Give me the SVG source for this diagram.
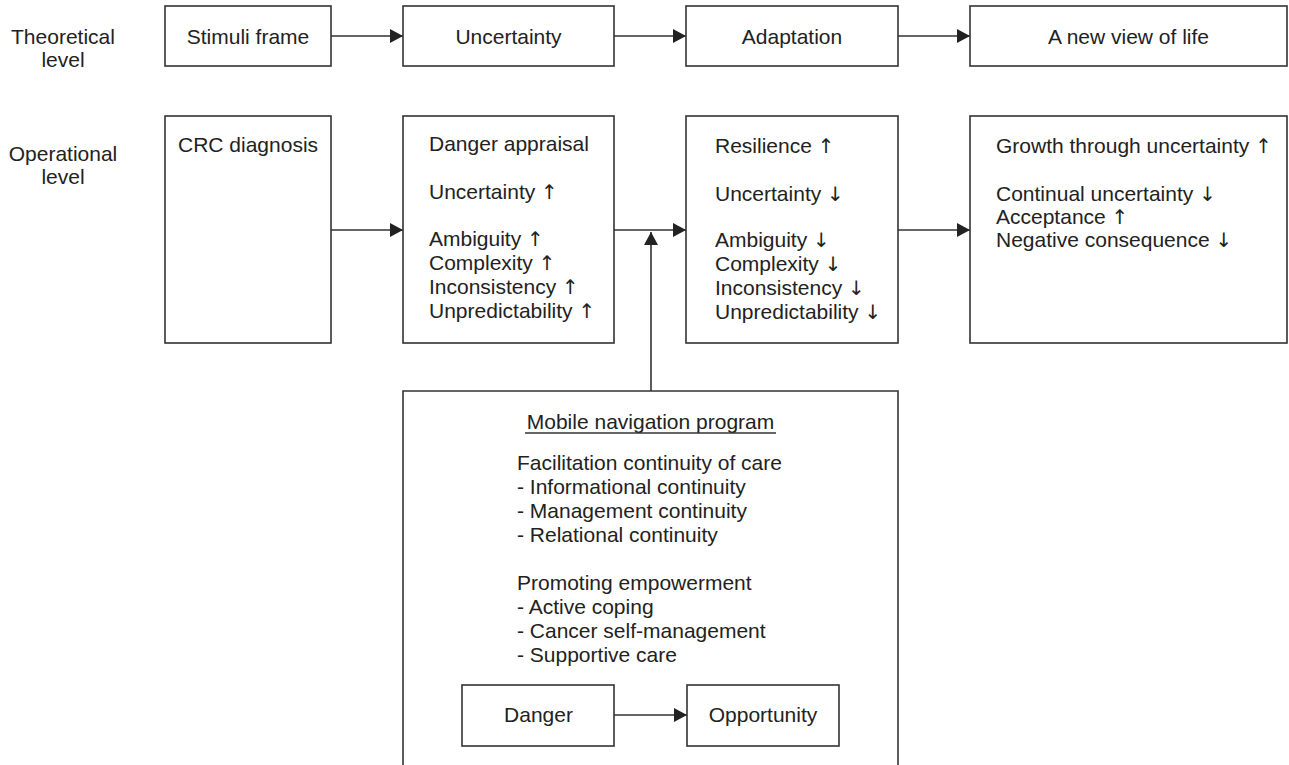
<svg xmlns="http://www.w3.org/2000/svg" width="1289" height="765" viewBox="0 0 1289 765">
<defs>
<style>
text{font-family:"Liberation Sans",Arial,sans-serif;font-size:21px;fill:#222}
.c{text-anchor:middle}
.a{font-family:"DejaVu Sans",sans-serif;font-size:20px;fill:#222}
.box{fill:#fff;stroke:#333;stroke-width:1.6}
.ln{fill:none;stroke:#333;stroke-width:1.6}
.arr{fill:none;stroke:#333;stroke-width:1.6;marker-end:url(#ah)}
</style>
<marker id="ah" markerUnits="userSpaceOnUse" markerWidth="14" markerHeight="15" refX="13" refY="7" orient="auto">
<path d="M0,0 L13,7 L0,14 z" fill="#222"/>
</marker>
</defs>
<rect width="1289" height="765" fill="#fff"/>

<g id="labels">
<text class="c" x="63" y="44">Theoretical</text>
<text class="c" x="63" y="67">level</text>
<text class="c" x="63" y="161">Operational</text>
<text class="c" x="63" y="184">level</text>
</g>

<g id="connectors">
<line class="arr" x1="331" y1="36" x2="403" y2="36"/>
<line class="arr" x1="614" y1="36" x2="686" y2="36"/>
<line class="arr" x1="898" y1="36" x2="970" y2="36"/>
<line class="arr" x1="331" y1="230" x2="403" y2="230"/>
<line class="arr" x1="614" y1="230" x2="686" y2="230"/>
<line class="arr" x1="898" y1="230" x2="970" y2="230"/>
<line class="arr" x1="651" y1="391" x2="651" y2="232"/>
<line class="arr" x1="614" y1="715" x2="687" y2="715"/>
</g>

<g id="stimuli">
<rect class="box" x="165" y="6" width="166" height="60"/>
<text class="c" x="248" y="44">Stimuli frame</text>
</g>
<g id="uncertainty">
<rect class="box" x="403" y="6" width="211" height="60"/>
<text class="c" x="508.5" y="44">Uncertainty</text>
</g>
<g id="adaptation">
<rect class="box" x="686" y="6" width="212" height="60"/>
<text class="c" x="792" y="44">Adaptation</text>
</g>
<g id="newview">
<rect class="box" x="970" y="6" width="317" height="60"/>
<text class="c" x="1128.5" y="44">A new view of life</text>
</g>

<g id="crc">
<rect class="box" x="165" y="116" width="166" height="227"/>
<text x="178" y="152">CRC diagnosis</text>
</g>
<g id="danger-appraisal">
<rect class="box" x="403" y="116" width="211" height="227"/>
<text x="429" y="151">Danger appraisal</text>
<text x="429" y="199">Uncertainty <tspan class="a">↑</tspan></text>
<text x="429" y="246">Ambiguity <tspan class="a">↑</tspan></text>
<text x="429" y="270">Complexity <tspan class="a">↑</tspan></text>
<text x="429" y="294">Inconsistency <tspan class="a">↑</tspan></text>
<text x="429" y="318">Unpredictability <tspan class="a">↑</tspan></text>
</g>
<g id="resilience">
<rect class="box" x="686" y="116" width="212" height="227"/>
<text x="715" y="153">Resilience <tspan class="a">↑</tspan></text>
<text x="715" y="201">Uncertainty <tspan class="a">↓</tspan></text>
<text x="715" y="247">Ambiguity <tspan class="a">↓</tspan></text>
<text x="715" y="271">Complexity <tspan class="a">↓</tspan></text>
<text x="715" y="295">Inconsistency <tspan class="a">↓</tspan></text>
<text x="715" y="319">Unpredictability <tspan class="a">↓</tspan></text>
</g>
<g id="growth">
<rect class="box" x="970" y="116" width="317" height="227"/>
<text x="996" y="153">Growth through uncertainty <tspan class="a">↑</tspan></text>
<text x="996" y="201">Continual uncertainty <tspan class="a">↓</tspan></text>
<text x="996" y="224">Acceptance <tspan class="a">↑</tspan></text>
<text x="996" y="247">Negative consequence <tspan class="a">↓</tspan></text>
</g>

<g id="mobile">
<path class="ln" d="M403,775 L403,391 L898,391 L898,775"/>
<text class="c" x="650.5" y="429">Mobile navigation program</text>
<line class="ln" x1="525" y1="433" x2="776" y2="433" stroke-width="1.2"/>
<text x="517" y="470">Facilitation continuity of care</text>
<text x="517" y="494">- Informational continuity</text>
<text x="517" y="518">- Management continuity</text>
<text x="517" y="542">- Relational continuity</text>
<text x="517" y="590">Promoting empowerment</text>
<text x="517" y="614">- Active coping</text>
<text x="517" y="638">- Cancer self-management</text>
<text x="517" y="662">- Supportive care</text>
</g>
<g id="danger">
<rect class="box" x="462" y="685" width="152" height="61"/>
<text class="c" x="538.5" y="722">Danger</text>
</g>
<g id="opportunity">
<rect class="box" x="687" y="685" width="152" height="61"/>
<text class="c" x="763" y="722">Opportunity</text>
</g>
</svg>
